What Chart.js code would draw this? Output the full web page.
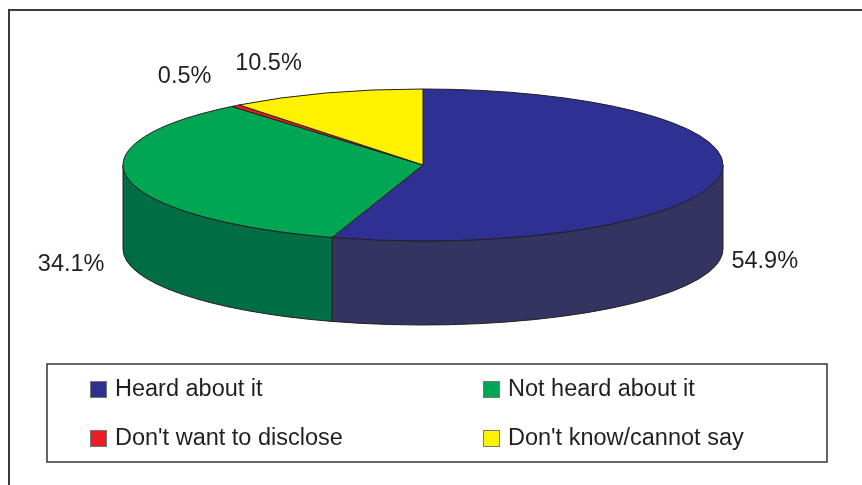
<!DOCTYPE html>
<html>
<head>
<meta charset="utf-8">
<title>Awareness</title>
<script src="https://cdn.jsdelivr.net/npm/chart.js@4.4.1/dist/chart.umd.min.js"></script>
<style>
  html, body { margin: 0; padding: 0; background: #fff; }
  #wrap { width: 862px; height: 485px; }
</style>
</head>
<body>
<div id="wrap"><canvas id="awarenessChart" width="862" height="485"></canvas></div>
<script>
// Survey answers
const categories = ['Heard about it', 'Not heard about it', "Don't want to disclose", "Don't know/cannot say"];
const shares = [54.9, 34.1, 0.5, 10.5];
const percentLabels = shares.map(v => v.toFixed(1) + '%');

// Top face and wall colours per slice
const topColors = ['#2E3192', '#00A651', '#ED1C24', '#FFF200'];
const sideColors = ['#33345F', '#006D44', '#9E1418', '#B5AC00'];

const TILT = 76 / 300;   // vertical squash of the disc
const DEPTH = 84;        // wall height in px
const EDGE = '#231F20';
const TEXT = '#231F20';
const FONT = '"Liberation Sans", Arial, sans-serif';

// Draws the pie as a tilted disc using the angles Chart.js computed
const pie3d = {
  id: 'pie3d',
  beforeDatasetsDraw(chart) {
    const ctx = chart.ctx;
    const arcs = chart.getDatasetMeta(0).data;
    ctx.save();
    ctx.lineWidth = 1;
    ctx.lineJoin = 'round';
    ctx.strokeStyle = EDGE;

    // front walls (angles between 0 and PI face the viewer)
    arcs.forEach((arc, i) => {
      const rx = arc.outerRadius, ry = rx * TILT;
      const s = Math.max(arc.startAngle, 0);
      const e = Math.min(arc.endAngle, Math.PI);
      if (e <= s) return;
      ctx.beginPath();
      ctx.ellipse(arc.x, arc.y, rx, ry, 0, s, e);
      ctx.ellipse(arc.x, arc.y + DEPTH, rx, ry, 0, e, s, true);
      ctx.closePath();
      ctx.fillStyle = sideColors[i];
      ctx.fill();
      ctx.stroke();
    });

    // top faces
    arcs.forEach((arc, i) => {
      const rx = arc.outerRadius, ry = rx * TILT;
      ctx.beginPath();
      ctx.moveTo(arc.x, arc.y);
      ctx.ellipse(arc.x, arc.y, rx, ry, 0, arc.startAngle, arc.endAngle);
      ctx.closePath();
      ctx.fillStyle = topColors[i];
      ctx.fill();
      ctx.stroke();
    });

    // percentage labels outside the disc
    ctx.fillStyle = TEXT;
    ctx.font = '23.5px ' + FONT;
    arcs.forEach((arc, i) => {
      const rx = arc.outerRadius, ry = rx * TILT;
      const mid = (arc.startAngle + arc.endAngle) / 2;
      const px = arc.x + rx * Math.cos(mid);
      const py = arc.y + ry * Math.sin(mid);
      const right = Math.cos(mid) > 0;
      ctx.textAlign = right ? 'left' : 'right';
      const lx = px + (right ? 12 : -24);
      if (Math.sin(mid) > 0) {
        ctx.textBaseline = 'middle';
        ctx.fillText(percentLabels[i], lx, py + DEPTH + 1);
      } else {
        ctx.textBaseline = 'alphabetic';
        ctx.fillText(percentLabels[i], lx, py - 23);
      }
    });
    ctx.restore();
    return false;
  },

  afterDraw(chart) {
    const ctx = chart.ctx;
    ctx.save();

    // outer frame
    ctx.strokeStyle = '#3A3A3A';
    ctx.lineWidth = 2;
    ctx.beginPath();
    ctx.moveTo(9, 485);
    ctx.lineTo(9, 10);
    ctx.lineTo(862, 10);
    ctx.stroke();

    // legend box, two columns
    ctx.lineWidth = 1.5;
    ctx.strokeStyle = '#333';
    ctx.strokeRect(47, 364, 780, 98);

    const cols = [90, 483];
    const rows = [381, 430];
    ctx.font = '23.5px ' + FONT;
    ctx.textAlign = 'left';
    ctx.textBaseline = 'middle';
    categories.forEach((name, i) => {
      const x = cols[i % 2], y = rows[Math.floor(i / 2)];
      ctx.fillStyle = topColors[i];
      ctx.fillRect(x, y, 17, 17);
      ctx.lineWidth = 1;
      ctx.strokeStyle = '#777';
      ctx.strokeRect(x + 0.5, y + 0.5, 16, 16);
      ctx.fillStyle = TEXT;
      ctx.fillText(name, x + 25, y + 9);
    });
    ctx.restore();
  }
};

new Chart(document.getElementById('awarenessChart'), {
  type: 'pie',
  data: {
    labels: categories,
    datasets: [{
      data: shares,
      backgroundColor: topColors,
      radius: 300
    }]
  },
  options: {
    responsive: false,
    animation: false,
    events: [],
    layout: { padding: { left: 0, right: 16, top: 0, bottom: 155 } },
    plugins: {
      legend: { display: false },
      tooltip: { enabled: false }
    }
  },
  plugins: [pie3d]
});
</script>
</body>
</html>
